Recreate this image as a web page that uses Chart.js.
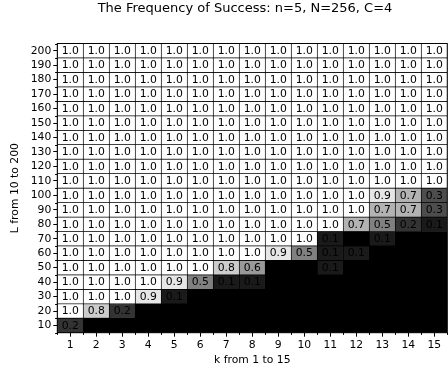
<!DOCTYPE html>
<html>
<head>
<meta charset="utf-8">
<script src="https://cdn.jsdelivr.net/npm/chart.js@4.4.1/dist/chart.umd.min.js"></script>
<style>
    html, body { margin: 0; padding: 0; background: #fff; }
    #wrap { width: 448px; height: 372px; position: relative; }
</style>
</head>
<body>
<div id="wrap"><canvas id="heat"></canvas></div>
<script>
// k along x, L along y
const kValues = [1, 2, 3, 4, 5, 6, 7, 8, 9, 10, 11, 12, 13, 14, 15];
const lValues = [10, 20, 30, 40, 50, 60, 70, 80, 90, 100, 110, 120, 130, 140, 150, 160, 170, 180, 190, 200];

// frequency of success, one row per L (from L=10 upwards), one value per k
const successRows = [
    [0.2, 0, 0, 0, 0, 0, 0, 0, 0, 0, 0, 0, 0, 0, 0],
    [1.0, 0.8, 0.2, 0, 0, 0, 0, 0, 0, 0, 0, 0, 0, 0, 0],
    [1.0, 1.0, 1.0, 0.9, 0.1, 0, 0, 0, 0, 0, 0, 0, 0, 0, 0],
    [1.0, 1.0, 1.0, 1.0, 0.9, 0.5, 0.1, 0.1, 0, 0, 0, 0, 0, 0, 0],
    [1.0, 1.0, 1.0, 1.0, 1.0, 1.0, 0.8, 0.6, 0, 0, 0.1, 0, 0, 0, 0],
    [1.0, 1.0, 1.0, 1.0, 1.0, 1.0, 1.0, 1.0, 0.9, 0.5, 0.1, 0.1, 0, 0, 0],
    [1.0, 1.0, 1.0, 1.0, 1.0, 1.0, 1.0, 1.0, 1.0, 1.0, 0.1, 0, 0.1, 0, 0],
    [1.0, 1.0, 1.0, 1.0, 1.0, 1.0, 1.0, 1.0, 1.0, 1.0, 1.0, 0.7, 0.5, 0.2, 0.1],
    [1.0, 1.0, 1.0, 1.0, 1.0, 1.0, 1.0, 1.0, 1.0, 1.0, 1.0, 1.0, 0.7, 0.7, 0.3],
    [1.0, 1.0, 1.0, 1.0, 1.0, 1.0, 1.0, 1.0, 1.0, 1.0, 1.0, 1.0, 0.9, 0.7, 0.3],
    [1.0, 1.0, 1.0, 1.0, 1.0, 1.0, 1.0, 1.0, 1.0, 1.0, 1.0, 1.0, 1.0, 1.0, 1.0],
    [1.0, 1.0, 1.0, 1.0, 1.0, 1.0, 1.0, 1.0, 1.0, 1.0, 1.0, 1.0, 1.0, 1.0, 1.0],
    [1.0, 1.0, 1.0, 1.0, 1.0, 1.0, 1.0, 1.0, 1.0, 1.0, 1.0, 1.0, 1.0, 1.0, 1.0],
    [1.0, 1.0, 1.0, 1.0, 1.0, 1.0, 1.0, 1.0, 1.0, 1.0, 1.0, 1.0, 1.0, 1.0, 1.0],
    [1.0, 1.0, 1.0, 1.0, 1.0, 1.0, 1.0, 1.0, 1.0, 1.0, 1.0, 1.0, 1.0, 1.0, 1.0],
    [1.0, 1.0, 1.0, 1.0, 1.0, 1.0, 1.0, 1.0, 1.0, 1.0, 1.0, 1.0, 1.0, 1.0, 1.0],
    [1.0, 1.0, 1.0, 1.0, 1.0, 1.0, 1.0, 1.0, 1.0, 1.0, 1.0, 1.0, 1.0, 1.0, 1.0],
    [1.0, 1.0, 1.0, 1.0, 1.0, 1.0, 1.0, 1.0, 1.0, 1.0, 1.0, 1.0, 1.0, 1.0, 1.0],
    [1.0, 1.0, 1.0, 1.0, 1.0, 1.0, 1.0, 1.0, 1.0, 1.0, 1.0, 1.0, 1.0, 1.0, 1.0],
    [1.0, 1.0, 1.0, 1.0, 1.0, 1.0, 1.0, 1.0, 1.0, 1.0, 1.0, 1.0, 1.0, 1.0, 1.0]
];

const titleText = 'The Frequency of Success: n=5, N=256, C=4';
const FONT = 'DejaVu Sans';

// one floating bar per cell, spanning L-5 .. L+5
const cells = [];
lValues.forEach((L, i) => {
    kValues.forEach((k, j) => {
        cells.push({ x: k, y: [L - 5, L + 5], v: successRows[i][j] });
    });
});

function gray(v) {
    const g = Math.round(Math.max(0, Math.min(1, v)) * 255);
    return `rgb(${g},${g},${g})`;
}

const extras = {
    id: 'extras',
    afterDatasetsDraw(chart) {
        const { ctx, chartArea: a, scales: { x, y } } = chart;
        ctx.save();

        // value text in every cell
        ctx.fillStyle = '#000';
        ctx.font = `10.8px "${FONT}"`;
        ctx.textAlign = 'center';
        ctx.textBaseline = 'middle';
        cells.forEach(c => {
            ctx.fillText(c.v.toFixed(1), x.getPixelForValue(c.x), y.getPixelForValue((c.y[0] + c.y[1]) / 2) + 0.5);
        });

        // frame
        ctx.strokeStyle = '#000';
        ctx.lineWidth = 1;
        ctx.strokeRect(a.left, a.top, a.right - a.left, a.bottom - a.top);

        // minor ticks at cell edges
        ctx.beginPath();
        kValues.concat([kValues[kValues.length - 1] + 1]).forEach(k => {
            const px = Math.round(x.getPixelForValue(k - 0.5)) + 0.5;
            ctx.moveTo(px, a.bottom);
            ctx.lineTo(px, a.bottom + 2.2);
        });
        lValues.concat([lValues[lValues.length - 1] + 10]).forEach(L => {
            const py = Math.round(y.getPixelForValue(L - 5)) + 0.5;
            ctx.moveTo(a.left, py);
            ctx.lineTo(a.left - 2.2, py);
        });
        ctx.stroke();
        ctx.restore();
    },
    afterDraw(chart) {
        const { ctx } = chart;
        ctx.save();
        ctx.fillStyle = '#000';
        ctx.font = `13px "${FONT}"`;
        ctx.textAlign = 'center';
        ctx.textBaseline = 'middle';
        ctx.fillText(titleText, 245, 8.5);
        ctx.restore();
    }
};

Chart.defaults.font.family = FONT;
Chart.defaults.font.size = 10.8;
Chart.defaults.color = '#000';

new Chart(document.getElementById('heat'), {
    type: 'bar',
    data: {
        datasets: [{
            data: cells,
            backgroundColor: c => gray(c.raw ? c.raw.v : 0),
            borderColor: '#000',
            borderWidth: c => (c.raw && c.raw.v > 0 ? 0.7 : 0),
            borderSkipped: false,
            barPercentage: 1,
            categoryPercentage: 1,
            grouped: false
        }]
    },
    options: {
        responsive: true,
        maintainAspectRatio: false,
        animation: false,
        events: [],
        layout: { padding: { top: 43.5, right: 0.7, bottom: 0, left: 0 } },
        plugins: {
            legend: { display: false },
            title: { display: false },
            tooltip: { enabled: false }
        },
        scales: {
            x: {
                type: 'linear',
                min: 0.5,
                max: 15.5,
                offset: false,
                afterBuildTicks: s => { s.ticks = kValues.map(v => ({ value: v })); },
                afterFit: s => { s.height = 39.3; },
                ticks: { padding: 2, maxRotation: 0, autoSkip: false, callback: v => String(v) },
                grid: { offset: false, drawOnChartArea: false, drawTicks: true, tickLength: 4, color: '#000', tickColor: '#000' },
                border: { display: false },
                title: { display: true, text: 'k from 1 to 15', padding: { top: 0, bottom: 5 } }
            },
            y: {
                type: 'linear',
                min: 5,
                max: 205,
                afterBuildTicks: s => { s.ticks = lValues.map(v => ({ value: v })); },
                afterFit: s => { s.width = 57.3; },
                ticks: { padding: 2, autoSkip: false, callback: v => String(v) },
                grid: { drawOnChartArea: false, drawTicks: true, tickLength: 4, color: '#000', tickColor: '#000' },
                border: { display: false },
                title: { display: true, text: 'L from 10 to 200', padding: { top: 9, bottom: 0 } }
            }
        }
    },
    plugins: [extras]
});
</script>
</body>
</html>
